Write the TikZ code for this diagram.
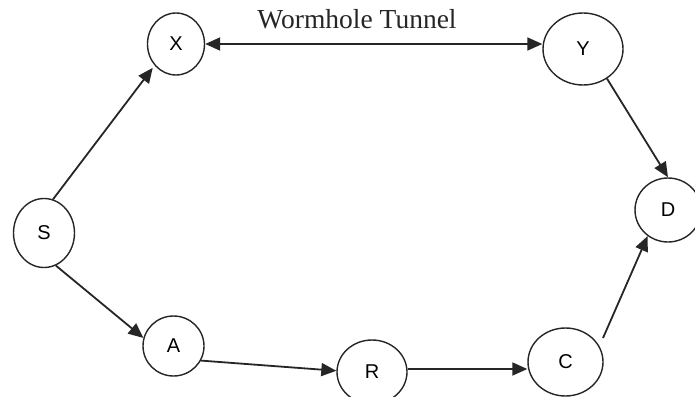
\documentclass[tikz,border=0pt]{standalone}
\usepackage{fontspec}
\setmainfont{Liberation Serif}
\newfontfamily\lblfont{Liberation Sans}
\usetikzlibrary{shapes.geometric,arrows.meta}
\begin{document}
\begin{tikzpicture}[x=1pt,y=-1pt,
  vtx/.style={draw=black!85,line width=1.4pt,ellipse,inner sep=0pt,font=\lblfont\fontsize{20}{24}\selectfont},
  edge/.style={draw=black!85,line width=1.8pt,-{Triangle[length=15pt,width=13pt]}},
  bedge/.style={draw=black!85,line width=1.8pt,{Triangle[length=15pt,width=13pt]}-{Triangle[length=15pt,width=13pt]}}]
\useasboundingbox[fill=white] (0,0) rectangle (695,396);
\node[vtx,minimum width=61pt,minimum height=69pt] (S) at (44,233) {S};
\node[vtx,minimum width=57pt,minimum height=62pt] (X) at (176,44) {X};
\node[vtx,minimum width=80pt,minimum height=72pt] (Y) at (583,49) {Y};
\node[vtx,minimum width=66pt,minimum height=64pt] (D) at (668,210) {D};
\node[vtx,minimum width=61pt,minimum height=60pt] (A) at (173.5,346) {A};
\node[vtx,minimum width=70pt,minimum height=64pt] (B) at (372,372) {R};
\node[vtx,minimum width=75pt,minimum height=68pt] (C) at (565.5,362) {C};
\node[font=\fontsize{27.5}{31}\selectfont,text=black!85] (T) at (357,19) {Wormhole Tunnel};
\coordinate (c1) at (603,338);
\draw[bedge] (X.east) -- (X.east -| Y.west);
\draw[edge,shorten >=3pt] (S.75) -- (X.-135);
\draw[edge] (S.-70) -- (A.165);
\draw[edge] (A.-28) -- (B.178);
\draw[edge] (B.east |- 0,369) -- (C.west |- 0,369);
\draw[edge] (c1) -- (D.-128);
\draw[edge] (Y.-51) -- (D.north);
\end{tikzpicture}
\end{document}
